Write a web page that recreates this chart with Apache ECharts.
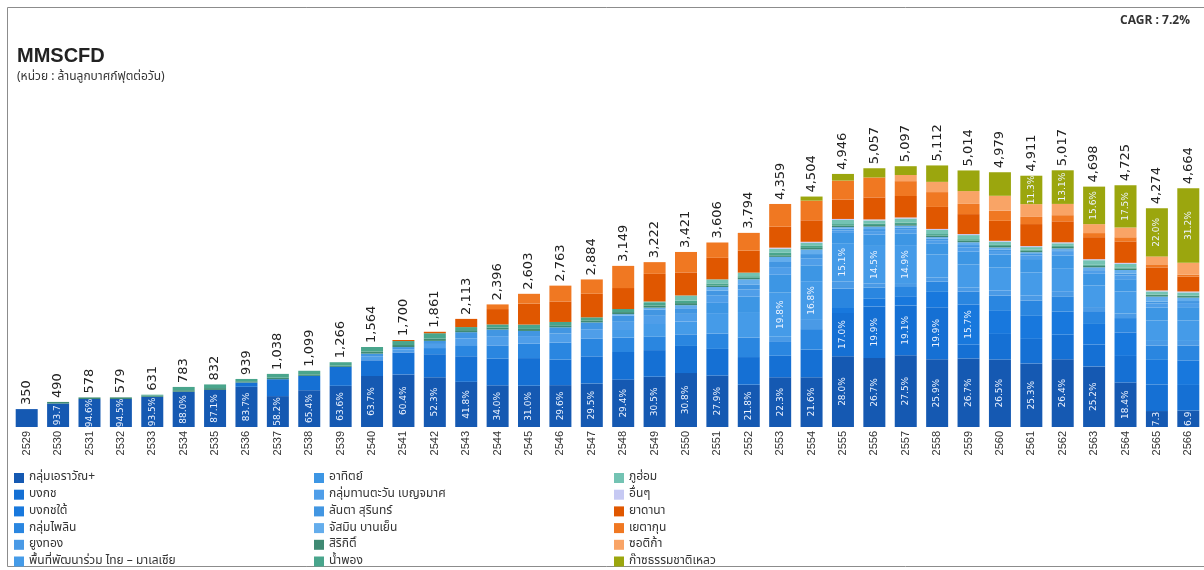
<!DOCTYPE html>
<html><head><meta charset="utf-8">
<script src="https://cdn.jsdelivr.net/npm/echarts@6/dist/echarts.min.js"></script>
<style>html,body{margin:0;padding:0;background:#fff}#c{width:1204px;height:570px}</style>
</head><body><div id="c"></div>
<script>
const years = ['2529','2530','2531','2532','2533','2534','2535','2536','2537','2538','2539','2540','2541','2542','2543','2544','2545','2546','2547','2548','2549','2550','2551','2552','2553','2554','2555','2556','2557','2558','2559','2560','2561','2562','2563','2564','2565','2566'];
const seriesNames = ['กลุ่มเอราวัณ+','บงกช','บงกชใต้','กลุ่มไพลิน','ยูงทอง','พื้นที่พัฒนาร่วม ไทย – มาเลเซีย','อาทิตย์','กลุ่มทานตะวัน เบญจมาศ','ลันตา สุรินทร์','จัสมิน บานเย็น','สิริกิติ์','น้ำพอง','ภูฮ่อม','อื่นๆ','ยาดานา','เยตากุน','ซอติก้า','ก๊าซธรรมชาติเหลว'];
const erawan = [350,459,547,547,590,689,725,786,604,719,805,996,1027,973,883,815,807,818,851,926,983,1054,1006,827,972,973,1385,1350,1402,1324,1339,1319,1242,1324,1184,869,312,322];
const bongkot = [0,0,0,0,0,0,0,83,330,280,370,308,430,450,500,520,540,500,530,540,520,530,520,540,420,540,841,1006,974,1017,270,500,480,480,430,520,520,500];
const bongkotSouth = [0,0,0,0,0,0,0,0,0,0,0,0,0,0,0,0,0,0,0,0,0,0,0,0,0,0,100,150,180,300,787,450,450,450,400,460,480,480];
const pailin = [0,0,0,0,0,0,0,0,0,0,0,0,0,120,200,260,280,330,350,280,260,227,300,380,270,400,380,220,180,200,250,300,300,300,250,280,280,290];
const yungthong = [0,0,0,0,0,0,0,0,0,0,0,0,0,0,0,0,0,0,0,0,0,0,0,0,100,180,140,80,60,80,80,100,100,100,80,90,90,90];
const jda = [0,0,0,0,0,0,0,0,0,0,0,0,0,0,0,0,0,0,0,150,250,250,400,500,863,757,747,733,759,450,450,450,450,450,420,430,400,400];
const arthit = [0,0,0,0,0,0,0,0,0,0,0,0,0,0,0,0,0,0,0,0,0,0,200,300,350,310,200,220,230,220,250,250,260,250,230,240,250,260];
const tantawan = [0,0,0,0,0,0,0,0,0,0,0,70,60,80,150,180,150,180,180,160,160,150,140,140,150,130,50,70,70,60,80,70,70,70,60,70,80,80];
const lanta = [0,0,0,0,0,0,0,0,0,0,0,60,45,60,120,130,100,120,133,120,120,110,100,100,100,90,33,40,40,30,50,30,30,30,30,40,40,40];
const jasmine = [0,0,0,0,0,0,0,0,0,0,0,0,0,0,0,0,0,0,0,30,40,60,70,100,100,90,30,48,40,30,55,40,34,36,36,69,97,67];
const sirikit = [0,31,31,32,25,30,35,25,30,30,25,40,40,45,40,40,40,40,40,40,40,40,30,30,30,30,30,30,30,30,30,30,30,30,30,30,30,30];
const nampong = [0,0,0,0,16,64,72,45,74,70,66,90,78,105,60,60,85,65,60,60,50,50,40,30,50,40,30,30,30,30,30,20,20,20,20,20,10,10];
const phuhorm = [0,0,0,0,0,0,0,0,0,0,0,0,0,0,0,0,0,0,0,0,30,100,80,70,80,60,80,60,80,80,80,60,50,50,90,70,60,60];
const others = [0,0,0,0,0,0,0,0,0,0,0,0,0,0,0,0,0,0,0,0,0,0,0,0,20,20,20,20,20,20,20,20,20,20,20,20,20,20];
const yadana = [0,0,0,0,0,0,0,0,0,0,0,0,20,28,160,300,410,400,460,410,540,450,420,430,410,420,380,430,420,430,390,390,430,410,430,420,450,290];
const yetagun = [0,0,0,0,0,0,0,0,0,0,0,0,0,0,0,91,191,310,280,433,229,400,300,347,444,384,370,390,290,290,200,200,140,120,80,80,60,40];
const zawtika = [0,0,0,0,0,0,0,0,0,0,0,0,0,0,0,0,0,0,0,0,0,0,0,0,0,0,0,0,120,200,250,290,250,220,175,190,155,230];
const lng = [0,0,0,0,0,0,0,0,0,0,0,0,0,0,0,0,0,0,0,0,0,0,0,0,0,80,130,180,172,321,403,460,555,657,733,827,940,1455];
const seriesData = [erawan,bongkot,bongkotSouth,pailin,yungthong,jda,arthit,tantawan,lanta,jasmine,sirikit,nampong,phuhorm,others,yadana,yetagun,zawtika,lng];
const colors = ['#1559b2','#1570d4','#1878dd','#2a86e0','#4a9ae6','#459be8','#3d96e4','#4f9ee9','#4296e2','#64adec','#3f8a73','#49a58c','#73c3b3','#c6c9f3','#e05700','#f07822','#f9a466','#9ba60e'];
const cagrText = 'CAGR : 7.2%';
const titleText = 'MMSCFD';
const subText = '(หน่วย : ล้านลูกบาศก์ฟุตต่อวัน)';

const totals = years.map((_, i) => seriesData.reduce((s, arr) => s + arr[i], 0));
const TH = 'Tahoma, "Noto Sans Thai", "Noto Sans Thai UI", Loma, Garuda, "DejaVu Sans", sans-serif';
const PX_PER_UNIT = 306 / 6000;

const series = seriesNames.map((name, k) => ({
  name, type: 'bar', stack: 'g', barWidth: 22,
  itemStyle: { color: colors[k] },
  data: seriesData[k].map(v => ({
    value: v,
    label: { width: Math.max(0, v * PX_PER_UNIT + 5), overflow: 'truncate', ellipsis: '' }
  })),
  label: {
    show: true, position: 'inside', rotate: 90, fontSize: 9, color: '#eef4ff',
    fontFamily: 'DejaVu Sans, sans-serif',
    formatter: p => {
      const t = totals[p.dataIndex];
      const v = p.value;
      if (!v) return '';
      const share = v / t;
      if ((k === 0 && share < 0.995) || v >= 550) return (share * 100).toFixed(1) + '%';
      return '';
    }
  }
}));
series.push({
  name: 'total', type: 'bar', stack: 'g', barWidth: 22,
  data: years.map(() => 0), itemStyle: { color: 'transparent' },
  label: {
    show: true, position: 'top', rotate: 90, align: 'left', verticalAlign: 'middle', distance: 4,
    fontSize: 13, color: '#222', fontFamily: 'DejaVu Sans, sans-serif',
    formatter: p => totals[p.dataIndex].toLocaleString('en-US')
  }
});

const legendBase = {
  orient: 'vertical', itemWidth: 10, itemHeight: 10, itemGap: 4.7, icon: 'rect', padding: 0,
  textStyle: { fontSize: 12, color: '#333', fontFamily: TH, lineHeight: 12 },
  top: 472, height: 98
};
const chart = echarts.init(document.getElementById('c'));
chart.setOption({
  animation: false,
  color: colors,
  title: [
    { text: titleText, left: 12, top: 41, textStyle: { fontSize: 20, fontWeight: 'bold', color: '#222', fontFamily: 'Liberation Sans, Arial, sans-serif' } },
    { text: subText, left: 12, top: 67, textStyle: { fontSize: 12, fontWeight: 'normal', color: '#333', fontFamily: TH } },
    { text: cagrText, right: 9, top: 11, textStyle: { fontSize: 12, fontWeight: 'bold', color: '#333', fontFamily: TH } }
  ],
  legend: [
    Object.assign({}, legendBase, { left: 14, data: seriesNames.slice(0, 6) }),
    Object.assign({}, legendBase, { left: 314, data: seriesNames.slice(6, 12) }),
    Object.assign({}, legendBase, { left: 614, data: seriesNames.slice(12, 18) })
  ],
  grid: { left: 11, right: 0, top: 120, bottom: 143, containLabel: false },
  xAxis: {
    type: 'category', data: years,
    axisLine: { show: false }, axisTick: { show: false },
    axisLabel: { rotate: 90, fontSize: 11, color: '#333', margin: 4, fontFamily: 'Liberation Sans, Arial, sans-serif' }
  },
  yAxis: { type: 'value', min: 0, max: 6000, show: false, splitLine: { show: false } },
  graphic: [
    { type: 'rect', shape: { x: 7.5, y: 7.5, width: 1220, height: 559 }, style: { fill: 'none', stroke: '#8c8c8c', lineWidth: 1 }, silent: true }
  ],
  series
});
</script></body></html>
